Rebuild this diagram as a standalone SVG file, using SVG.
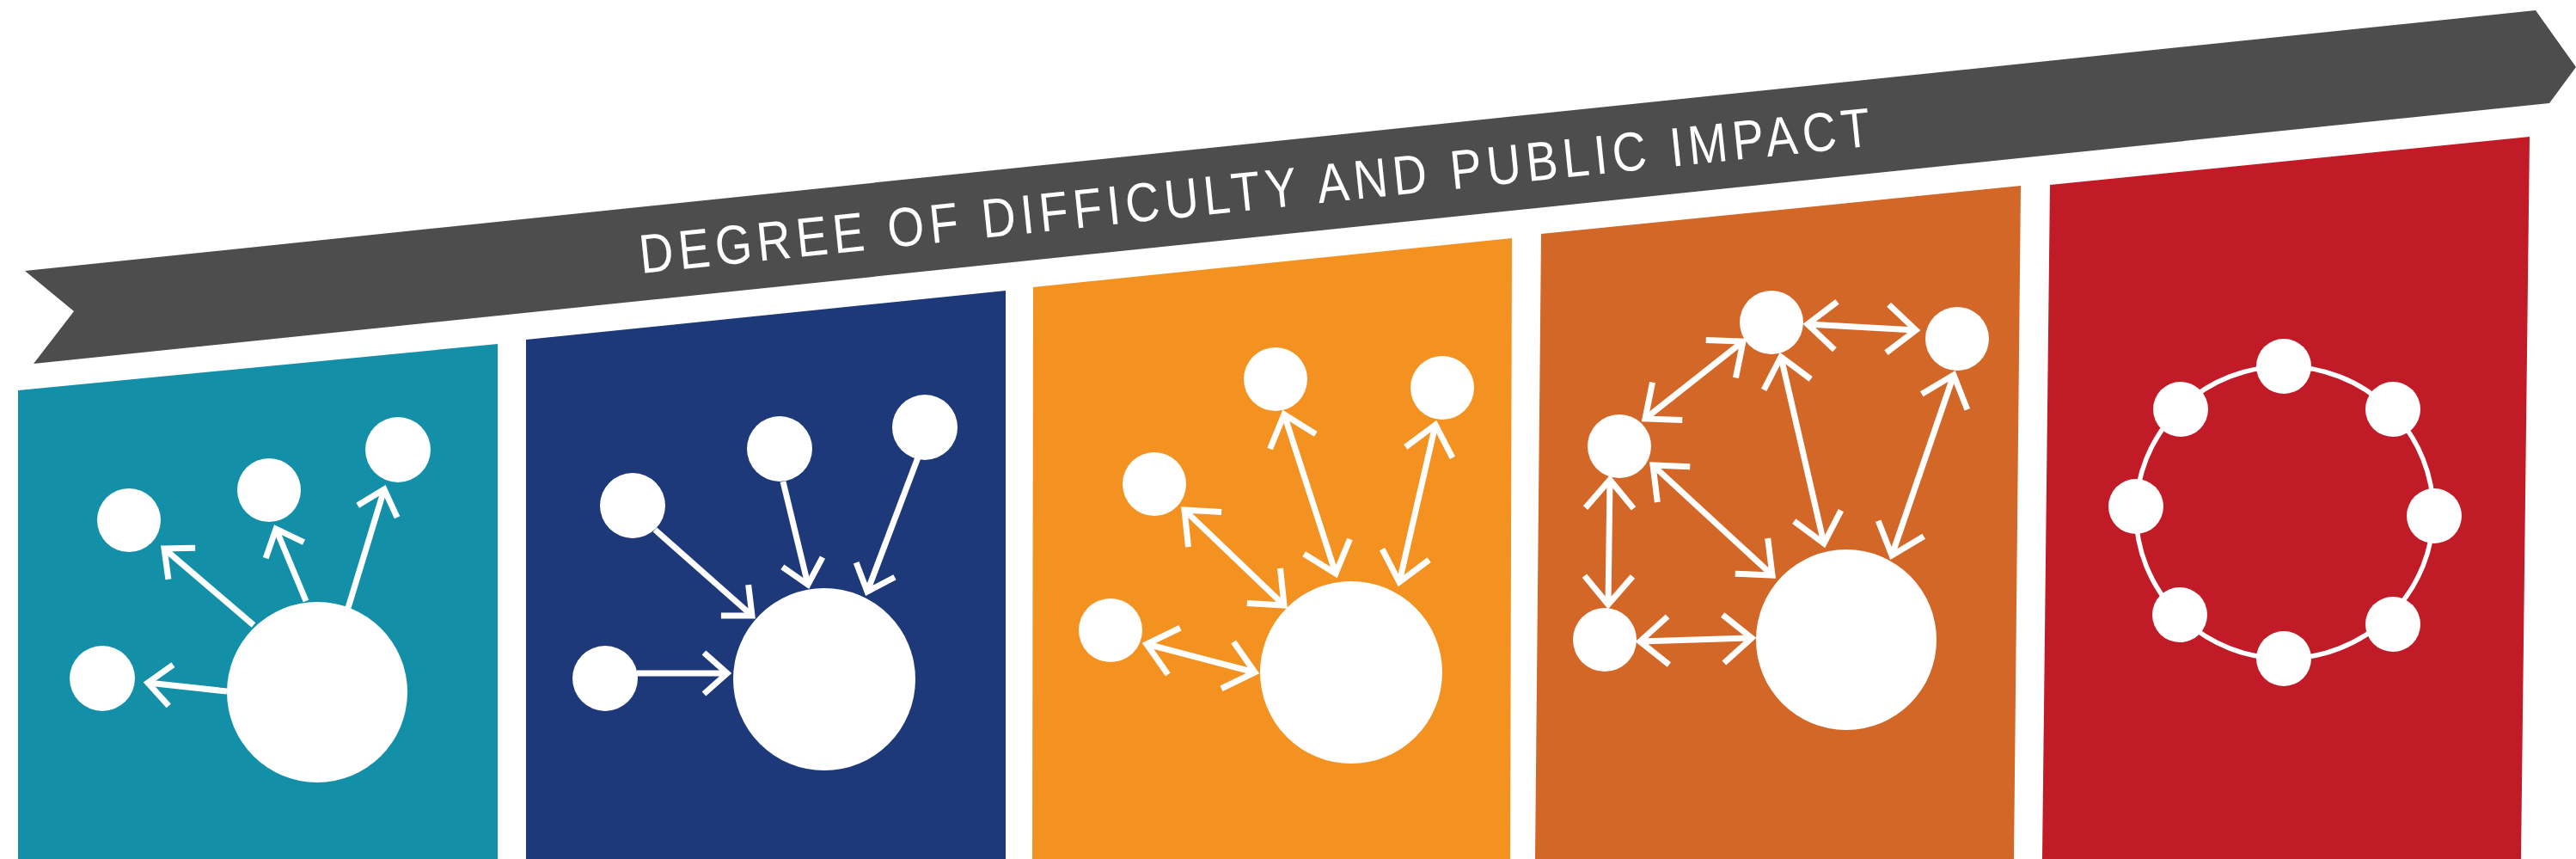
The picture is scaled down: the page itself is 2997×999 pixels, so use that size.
<svg xmlns="http://www.w3.org/2000/svg" width="2997" height="999" viewBox="0 0 2997 999">
<defs>
<marker id="head" markerUnits="userSpaceOnUse" viewBox="-50 -50 100 100" markerWidth="100" markerHeight="100" refX="0" refY="0" orient="auto" overflow="visible">
<path d="M-27,-24 L0,0 L-27,24" fill="none" stroke="#fff" stroke-width="7"/>
</marker>
<marker id="headL" markerUnits="userSpaceOnUse" viewBox="-50 -50 100 100" markerWidth="100" markerHeight="100" refX="0" refY="0" orient="auto" overflow="visible">
<path d="M-33,-28 L0,0 L-33,28" fill="none" stroke="#fff" stroke-width="7"/>
</marker>
<marker id="headLS" markerUnits="userSpaceOnUse" viewBox="-50 -50 100 100" markerWidth="100" markerHeight="100" refX="0" refY="0" orient="auto-start-reverse" overflow="visible">
<path d="M-33,-28 L0,0 L-33,28" fill="none" stroke="#fff" stroke-width="7"/>
</marker>
</defs>
<rect width="2997" height="999" fill="#fff"/>
<g id="ribbon">
<polygon points="29,315 2950,12 2997,78 2966,120 39,423 86,362" fill="#4d4d4d"/>
</g>
<text id="title" font-family="Liberation Sans" font-size="64" fill="#fff" transform="translate(746,318) rotate(-5.92) scale(0.86,1)" x="0" y="0" textLength="1674" lengthAdjust="spacing">DEGREE OF DIFFICULTY AND PUBLIC IMPACT</text>
<g id="panel-1" fill="#fff">
<polygon points="21,454 579,400 579,999 21,999" fill="#1390a8"/>
<g id="p1-hub"><circle cx="369" cy="805" r="105"/></g>
<g id="p1-a"><circle cx="119" cy="789" r="38"/></g>
<g id="p1-b"><circle cx="150" cy="605" r="37"/></g>
<g id="p1-c"><circle cx="313" cy="570" r="37"/></g>
<g id="p1-d"><circle cx="463" cy="523" r="38"/></g>
</g>
<g id="panel-2" fill="#fff">
<polygon points="612,395 1170,338 1170,999 612,999" fill="#1e397a"/>
<g id="p2-hub"><circle cx="959" cy="790" r="106"/></g>
<g id="p2-a"><circle cx="704" cy="789" r="38"/></g>
<g id="p2-b"><circle cx="736" cy="588" r="38"/></g>
<g id="p2-c"><circle cx="907" cy="522" r="38"/></g>
<g id="p2-d"><circle cx="1076" cy="497" r="38"/></g>
</g>
<g id="panel-3" fill="#fff">
<polygon points="1202,334 1759,277 1757,999 1201,999" fill="#f39220"/>
<g id="p3-hub"><circle cx="1572" cy="782" r="106"/></g>
<g id="p3-a"><circle cx="1292" cy="733" r="37"/></g>
<g id="p3-b"><circle cx="1343" cy="563" r="37"/></g>
<g id="p3-c"><circle cx="1484" cy="441" r="37"/></g>
<g id="p3-d"><circle cx="1678" cy="451" r="37"/></g>
</g>
<g id="panel-4" fill="#fff">
<polygon points="1793,272 2351,216 2343,999 1786,999" fill="#d36727"/>
<g id="p4-hub"><circle cx="2148" cy="744" r="105"/></g>
<g id="p4-top"><circle cx="2061" cy="375" r="37"/></g>
<g id="p4-topright"><circle cx="2277" cy="394" r="37"/></g>
<g id="p4-left"><circle cx="1884" cy="519" r="37"/></g>
<g id="p4-bottomleft"><circle cx="1867" cy="744" r="37"/></g>
</g>
<g id="panel-5" fill="#fff">
<polygon points="2385,215 2943,159 2933,999 2376,999" fill="#c01b26"/>
<ellipse cx="2658" cy="596" rx="173" ry="170" fill="none" stroke="#fff" stroke-width="5.5"/>
<g id="p5-n1"><circle cx="2657" cy="426" r="32"/></g>
<g id="p5-n2"><circle cx="2784" cy="476" r="32"/></g>
<g id="p5-n3"><circle cx="2832" cy="600" r="32"/></g>
<g id="p5-n4"><circle cx="2784" cy="726" r="32"/></g>
<g id="p5-n5"><circle cx="2657" cy="766" r="32"/></g>
<g id="p5-n6"><circle cx="2536" cy="715" r="32"/></g>
<g id="p5-n7"><circle cx="2485" cy="589" r="32"/></g>
<g id="p5-n8"><circle cx="2537" cy="476" r="32"/></g>
</g>
<g id="connectors" stroke="#fff" stroke-width="7" fill="none">
<g marker-end="url(#head)">
<line x1="264" y1="804" x2="172" y2="794"/>
<line x1="295" y1="727" x2="191" y2="638"/>
<line x1="356" y1="699" x2="321" y2="615"/>
<line x1="405" y1="707" x2="447" y2="569"/>
<line x1="741" y1="783" x2="846" y2="783"/>
<line x1="762" y1="616" x2="875" y2="716"/>
<line x1="911" y1="560" x2="940" y2="680"/>
<line x1="1068" y1="532" x2="1009" y2="688"/>
</g>
<g marker-start="url(#headLS)" marker-end="url(#headL)">
<line x1="1334" y1="749" x2="1460" y2="782"/>
<line x1="1378" y1="593" x2="1494" y2="704"/>
<line x1="1494" y1="482" x2="1554" y2="667"/>
<line x1="1670" y1="494" x2="1628" y2="677"/>
<line x1="2103" y1="377" x2="2229" y2="384"/>
<line x1="1914" y1="487" x2="2028" y2="397"/>
<line x1="2072" y1="415" x2="2122" y2="632"/>
<line x1="2273" y1="436" x2="2201" y2="646"/>
<line x1="1923" y1="541" x2="2062" y2="669"/>
<line x1="1873" y1="558" x2="1871" y2="703"/>
<line x1="1908" y1="746" x2="2038" y2="742"/>
</g>
</g>
</svg>
